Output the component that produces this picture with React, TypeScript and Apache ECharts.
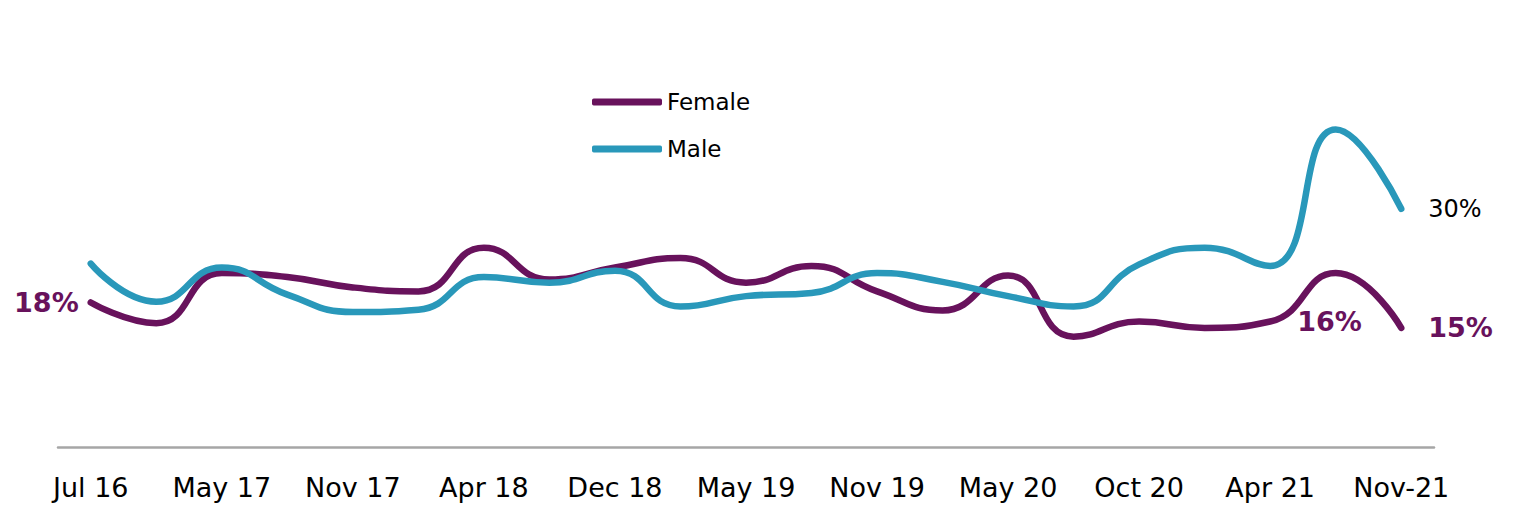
import React, { useEffect, useRef } from "react";
import * as echarts from "echarts";

const categories = [
  "Jul 16", "Dec 16", "May 17", "Aug 17", "Nov 17", "Feb 18", "Apr 18",
  "Aug 18", "Dec 18", "Feb 19", "May 19", "Aug 19", "Nov 19", "Feb 20",
  "May 20", "Aug 20", "Oct 20", "Jan 21", "Apr 21", "Jul 21", "Nov-21",
];

const femaleValues = [
  18.2, 15.6, 21.9, 21.4, 20.1, 19.6, 25.1, 21.1, 22.6, 23.8, 20.7,
  22.8, 19.6, 17.2, 21.6, 13.9, 15.8, 15.0, 15.8, 21.9, 15.0,
];

const maleValues = [
  23.1, 18.3, 22.6, 19.2, 17.0, 17.3, 21.4, 20.7, 22.2, 17.7, 19.0,
  19.4, 21.9, 20.8, 19.0, 17.7, 23.0, 25.1, 22.8, 40.0, 30.0,
];

const femaleLabelled: Record<number, "left" | "right"> = { 0: "left", 18: "right", 20: "right" };
const maleLabelled: Record<number, "left" | "right"> = { 20: "right" };

const FEMALE = "#68125C";
const MALE = "#2998BA";
const FONT = "DejaVu Sans";

export default function App() {
  const ref = useRef<HTMLDivElement>(null);

  useEffect(() => {
    if (!ref.current) return;
    const chart = echarts.init(ref.current, null, { renderer: "svg" });

    const fmt = (p: any) => `${Math.round(p.value)}%`;

    const femaleData = femaleValues.map((v, i) =>
      femaleLabelled[i]
        ? {
            value: v,
            label: {
              show: true,
              position: femaleLabelled[i],
              distance: femaleLabelled[i] === "left" ? 12 : 27,
              formatter: fmt,
              color: FEMALE,
              fontFamily: FONT,
              fontWeight: "bold",
              fontSize: 27,
            },
          }
        : v
    );

    const maleData = maleValues.map((v, i) =>
      maleLabelled[i]
        ? {
            value: v,
            label: {
              show: true,
              position: maleLabelled[i],
              distance: 27,
              formatter: fmt,
              color: "#000",
              fontFamily: FONT,
              fontSize: 24,
            },
          }
        : v
    );

    chart.setOption({
      animation: false,
      backgroundColor: "#fff",
      grid: { left: 58, right: 89, top: 50, bottom: 80, containLabel: false },
      legend: {
        orient: "vertical",
        left: 587,
        top: 84,
        icon: "roundRect",
        itemWidth: 70,
        itemHeight: 7,
        itemGap: 21,
        textStyle: { fontFamily: FONT, fontSize: 23, color: "#000", lineHeight: 26 },
        data: ["Female", "Male"],
      },
      xAxis: {
        type: "category",
        data: categories,
        boundaryGap: true,
        axisLine: { show: true, lineStyle: { color: "#A6A6A6", width: 2.5 } },
        axisTick: { show: false },
        axisLabel: {
          interval: 1,
          margin: 27,
          color: "#000",
          fontFamily: FONT,
          fontSize: 27,
        },
      },
      yAxis: {
        type: "value",
        min: 0,
        max: 50,
        show: false,
        splitLine: { show: false },
      },
      series: [
        {
          name: "Female",
          type: "line",
          data: femaleData,
          smooth: 0.5,
          symbol: "circle",
          symbolSize: 0.1,
          showSymbol: true,
          showAllSymbol: true,
          lineStyle: { color: FEMALE, width: 6.5, cap: "round", join: "round" },
          itemStyle: { color: FEMALE },
          z: 3,
        },
        {
          name: "Male",
          type: "line",
          data: maleData,
          smooth: 0.5,
          symbol: "circle",
          symbolSize: 0.1,
          showSymbol: true,
          showAllSymbol: true,
          lineStyle: { color: MALE, width: 6.5, cap: "round", join: "round" },
          itemStyle: { color: MALE },
          z: 4,
        },
      ],
    });

    return () => chart.dispose();
  }, []);

  return (
    <div
      ref={ref}
      style={{ position: "absolute", left: 0, top: 0, width: 1523, height: 527 }}
    />
  );
}
